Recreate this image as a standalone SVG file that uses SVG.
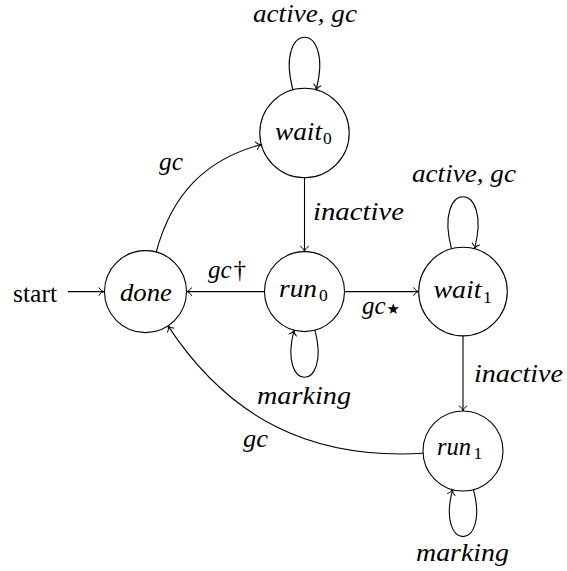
<svg xmlns="http://www.w3.org/2000/svg" width="567" height="571" viewBox="0 0 567 571">
<style>
.st{fill:#fff;stroke:#000;stroke-width:1.1}
.e{fill:none;stroke:#000;stroke-width:1.1;marker-end:url(#to)}
text{font-family:'Liberation Serif','Times New Roman',serif;font-size:25px;fill:#000}
.m{font-style:italic}
.r{font-style:normal}
.sub{font-style:normal;font-size:17.5px}
.star{font-family:'DejaVu Sans','Noto Sans',sans-serif;font-style:normal;font-size:15px}
</style>
<defs>
<marker id="to" markerUnits="userSpaceOnUse" viewBox="-7 -6 8 12" refX="0" refY="0" markerWidth="8" markerHeight="12" orient="auto" overflow="visible">
<path d="M-5,-3.8 C-3.8,-1.4 -1.2,-0.3 0,0 C-1.2,0.3 -3.8,1.4 -5,3.8" fill="none" stroke="#000" stroke-width="1" stroke-linecap="round"/>
</marker>
</defs>

<g id="connectors">
<line class="e" x1="68" y1="291.6" x2="104" y2="291.6"/>
<line class="e" x1="304.5" y1="177.7" x2="304.5" y2="251.6"/>
<line class="e" x1="264.5" y1="291.6" x2="186.5" y2="291.6"/>
<line class="e" x1="344.5" y1="291.6" x2="418.7" y2="291.6"/>
<line class="e" x1="463" y1="335.9" x2="463" y2="411"/>
<path class="e" d="M156.2,252 C171.5,195.1 204.4,159.6 261.3,144.5"/>
<path class="e" d="M423.1,453.3 C311.7,459.8 229.3,419.1 168,325.9"/>
<path class="e" d="M292.9,89.8 C274.1,19.8 334.9,19.8 316.1,89.8"/>
<path class="e" d="M451.5,248.8 C432.9,179.4 493.1,179.4 474.5,248.8"/>
<path class="e" d="M314.9,330.2 C331.7,392.9 277.3,392.9 294.1,330.2"/>
<path class="e" d="M473.4,489.6 C490.2,552.3 435.8,552.3 452.6,489.6"/>
<text class="r" x="13" y="302" textLength="44" lengthAdjust="spacingAndGlyphs">start</text>
<text class="m" x="253" y="22" textLength="104" lengthAdjust="spacingAndGlyphs">active, gc</text>
<text class="m" x="159" y="170" textLength="24" lengthAdjust="spacingAndGlyphs">gc</text>
<text class="m" x="208" y="278"><tspan>gc</tspan><tspan class="r" dx="2">†</tspan></text>
<text class="m" x="313" y="220" textLength="91" lengthAdjust="spacingAndGlyphs">inactive</text>
<text class="m" x="362" y="314"><tspan>gc</tspan><tspan class="star" dx="1">★</tspan></text>
<text class="m" x="257" y="404" textLength="94" lengthAdjust="spacingAndGlyphs">marking</text>
<text class="m" x="243" y="447" textLength="25" lengthAdjust="spacingAndGlyphs">gc</text>
<text class="m" x="412" y="182" textLength="104" lengthAdjust="spacingAndGlyphs">active, gc</text>
<text class="m" x="474" y="382" textLength="89" lengthAdjust="spacingAndGlyphs">inactive</text>
<text class="m" x="416" y="561" textLength="93" lengthAdjust="spacingAndGlyphs">marking</text>
</g>

<g id="wait0">
<circle class="st" cx="304.5" cy="133" r="44.7"/>
<text class="m" x="275" y="140"><tspan textLength="47" lengthAdjust="spacingAndGlyphs">wait</tspan><tspan class="sub" x="323" y="144">0</tspan></text>
</g>
<g id="done">
<circle class="st" cx="145.5" cy="291.6" r="41"/>
<text class="m" x="120" y="301" textLength="52" lengthAdjust="spacingAndGlyphs">done</text>
</g>
<g id="run0">
<circle class="st" cx="304.5" cy="291.6" r="40"/>
<text class="m" x="279" y="297"><tspan textLength="38" lengthAdjust="spacingAndGlyphs">run</tspan><tspan class="sub" x="319" y="301">0</tspan></text>
</g>
<g id="wait1">
<circle class="st" cx="463" cy="291.6" r="44.3"/>
<text class="m" x="433.5" y="298.3"><tspan textLength="48" lengthAdjust="spacingAndGlyphs">wait</tspan><tspan class="sub" x="483" y="302.5">1</tspan></text>
</g>
<g id="run1">
<circle class="st" cx="463" cy="451" r="40"/>
<text class="m" x="437" y="455"><tspan textLength="34" lengthAdjust="spacingAndGlyphs">run</tspan><tspan class="sub" x="473.5" y="459">1</tspan></text>
</g>
</svg>
